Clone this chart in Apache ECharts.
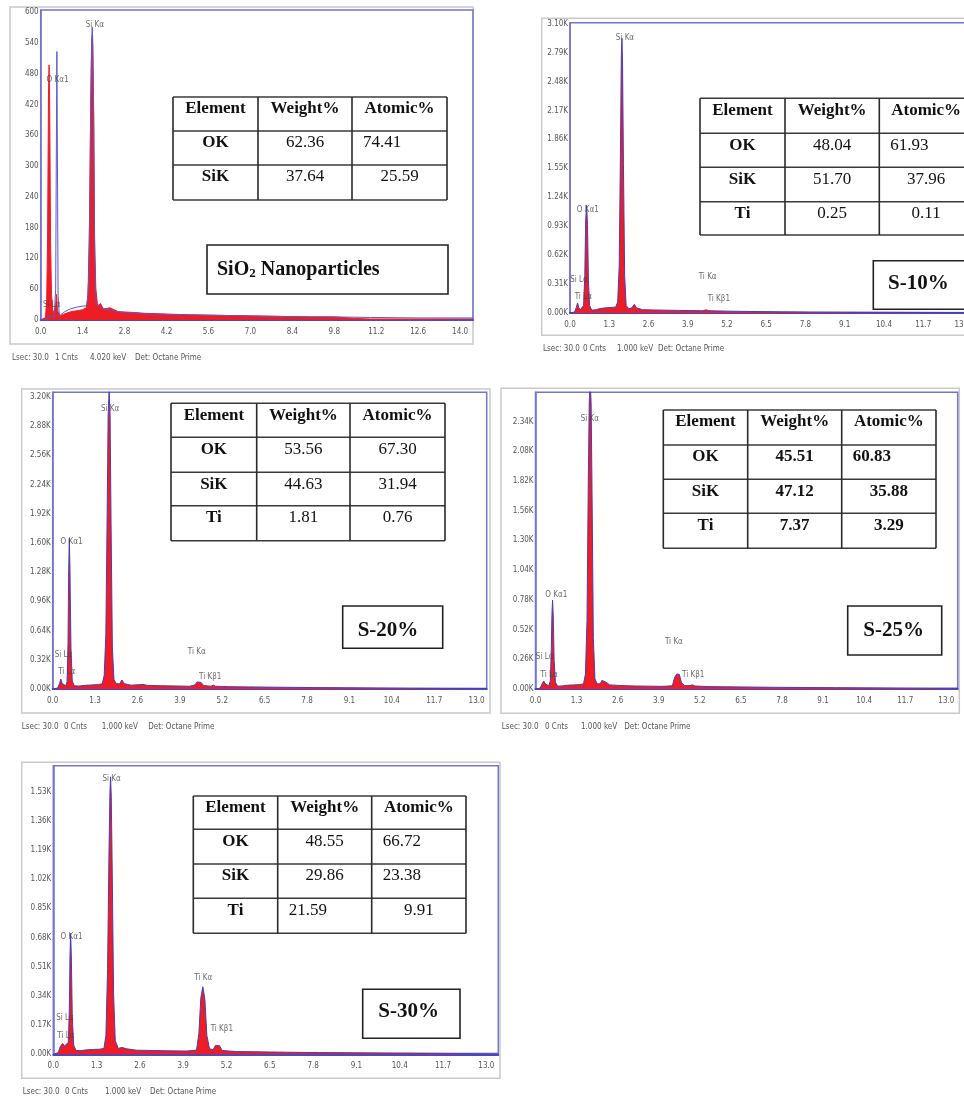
<!DOCTYPE html>
<html>
<head>
<meta charset="utf-8">
<script src="https://cdn.jsdelivr.net/npm/echarts/dist/echarts.min.js"></script>
<style>
html,body{margin:0;padding:0;background:#fff;}
#chart{width:964px;height:1098px;}
</style>
</head>
<body>
<div id="chart"></div>
<script>
// ---------------- DATA ----------------
// tick labels
const xTicks14 = ['0.0','1.4','2.8','4.2','5.6','7.0','8.4','9.8','11.2','12.6','14.0'];
const xTicks13 = ['0.0','1.3','2.6','3.9','5.2','6.5','7.8','9.1','10.4','11.7','13.0'];
const yTicks1 = ['0','60','120','180','240','300','360','420','480','540','600'];
const yTicks2 = ['0.00K','0.31K','0.62K','0.93K','1.24K','1.55K','1.86K','2.17K','2.48K','2.79K','3.10K'];
const yTicks3 = ['0.00K','0.32K','0.64K','0.96K','1.28K','1.60K','1.92K','2.24K','2.56K','2.88K','3.20K'];
const yTicks4 = ['0.00K','0.26K','0.52K','0.78K','1.04K','1.30K','1.56K','1.82K','2.08K','2.34K'];
const yTicks5 = ['0.00K','0.17K','0.34K','0.51K','0.68K','0.85K','1.02K','1.19K','1.36K','1.53K'];

// spectra [keV, counts]
const spec1Red = [[0,0],[0.16,5],[0.20,40],[0.23,160],[0.26,440],[0.28,497],[0.30,420],[0.33,150],[0.36,50],[0.40,20],[0.45,12],[0.50,30],[0.53,50],[0.56,18],[0.65,8],[0.80,12],[1.00,16],[1.20,18],[1.40,20],[1.52,24],[1.58,50],[1.63,200],[1.67,420],[1.70,540],[1.72,555],[1.74,520],[1.77,380],[1.80,160],[1.84,60],[1.90,28],[2.00,32],[2.10,20],[2.30,24],[2.60,16],[3.00,15],[3.50,13],[4.00,12],[4.50,11],[5.00,10],[6.00,9],[7.00,8],[8.00,7],[9.00,6],[9.80,6],[10.5,3],[11.0,2],[12.0,2],[13.0,2],[14.43,2]];
const spec1Blue = [[0,0],[0.20,3],[0.30,8],[0.45,6],[0.50,60],[0.52,300],[0.54,523],[0.56,300],[0.58,50],[0.62,8],[0.80,16],[1.00,22],[1.20,25],[1.40,27],[1.55,28],[1.62,100],[1.67,420],[1.70,540],[1.72,571],[1.74,540],[1.77,400],[1.80,120],[1.85,30],[2.00,24],[2.30,20],[2.60,16],[3.00,14],[3.50,12],[4.00,11],[5.00,10],[6.00,9],[7.00,8],[8.00,7],[9.00,6],[9.80,6],[11.0,5],[12.6,4],[14.43,4]];
const spec2 = [[0,0],[0.15,10],[0.21,60],[0.25,107],[0.29,60],[0.34,35],[0.40,30],[0.45,80],[0.49,400],[0.52,1000],[0.55,1155],[0.58,950],[0.61,350],[0.65,80],[0.72,30],[0.85,35],[1.00,48],[1.20,56],[1.40,60],[1.52,65],[1.58,120],[1.63,500],[1.67,1700],[1.70,2750],[1.72,2943],[1.74,2700],[1.77,1600],[1.81,400],[1.86,80],[1.95,45],[2.05,55],[2.13,93],[2.20,55],[2.40,36],[2.80,32],[3.20,30],[3.60,28],[4.00,26],[4.40,24],[4.51,34],[4.60,24],[4.93,22],[5.20,20],[6.00,16],[7.00,13],[8.00,11],[9.00,10],[10.0,9],[11.0,8],[12.0,7],[13.25,6]];
const spec3 = [[0,0],[0.15,10],[0.21,60],[0.25,109],[0.29,60],[0.34,40],[0.40,35],[0.44,80],[0.47,500],[0.49,1300],[0.51,1652],[0.53,1300],[0.56,450],[0.60,90],[0.66,35],[0.80,32],[1.00,40],[1.20,45],[1.40,48],[1.52,58],[1.58,150],[1.63,600],[1.67,1900],[1.70,3000],[1.73,3260],[1.76,3000],[1.79,1800],[1.83,450],[1.88,100],[1.95,60],[2.05,55],[2.12,98],[2.20,58],[2.40,42],[2.77,50],[2.90,40],[3.30,36],[3.80,33],[4.20,30],[4.36,45],[4.43,78],[4.49,84],[4.55,72],[4.63,38],[4.85,30],[4.92,42],[5.00,30],[5.40,26],[6.00,23],[7.00,19],[8.00,16],[9.00,14],[10.0,12],[11.0,10],[12.0,9],[13.31,8]];
const spec4 = [[0,0],[0.15,8],[0.21,45],[0.26,70],[0.31,45],[0.36,28],[0.42,28],[0.47,70],[0.50,350],[0.52,650],[0.54,778],[0.56,650],[0.59,250],[0.63,60],[0.70,25],[0.85,27],[1.00,33],[1.20,36],[1.40,38],[1.52,45],[1.58,130],[1.63,600],[1.67,1800],[1.70,2500],[1.73,2700],[1.76,2500],[1.79,1700],[1.83,450],[1.88,90],[1.95,45],[2.05,45],[2.10,75],[2.16,85],[2.22,62],[2.35,36],[2.80,29],[3.20,26],[3.60,25],[4.00,23],[4.33,28],[4.40,100],[4.47,131],[4.55,128],[4.62,55],[4.72,29],[4.88,30],[4.96,36],[5.05,26],[5.50,21],[6.50,18],[7.50,15],[8.50,13],[9.50,12],[10.5,10],[11.5,9],[12.5,8],[13.36,8]];
const spec5 = [[0,0],[0.15,10],[0.21,45],[0.28,63],[0.34,48],[0.40,52],[0.45,70],[0.48,250],[0.50,560],[0.52,704],[0.54,580],[0.57,220],[0.61,55],[0.68,22],[0.85,22],[1.00,26],[1.20,28],[1.40,30],[1.52,34],[1.58,110],[1.63,500],[1.67,1150],[1.70,1520],[1.72,1615],[1.74,1500],[1.77,1050],[1.81,350],[1.86,80],[1.95,34],[2.06,40],[2.12,46],[2.20,32],[2.50,24],[3.00,22],[3.50,20],[4.00,19],[4.30,24],[4.37,120],[4.43,330],[4.49,393],[4.55,320],[4.61,110],[4.69,32],[4.80,27],[4.87,52],[4.93,59],[4.99,50],[5.07,22],[5.50,16],[6.00,15],[7.00,12],[8.00,10],[9.00,9],[10.0,8],[11.0,7],[12.0,6],[13.36,6]];

// peak labels [text, keV, counts]
const peaks1 = [['Si Kα',1.81,575],['O Kα1',0.56,467],['Si Lα',0.37,29]];
const peaks2 = [['Si Kα',1.82,2950],['O Kα1',0.59,1101],['Si Lα',0.30,353],['Ti Lα',0.44,174],['Ti Kα',4.56,382],['Ti Kβ1',4.93,150]];
const peaks3 = [['Si Kα',1.76,3069],['O Kα1',0.58,1614],['Si Lα',0.33,373],['Ti Lα',0.43,190],['Ti Kα',4.42,409],['Ti Kβ1',4.83,135]];
const peaks4 = [['Si Kα',1.72,2366],['O Kα1',0.66,822],['Si Lα',0.29,282],['Ti Lα',0.43,122],['Ti Kα',4.38,408],['Ti Kβ1',4.99,122]];
const peaks5 = [['Si Kα',1.75,1605],['O Kα1',0.55,684],['Si Lα',0.35,209],['Ti Lα',0.38,106],['Ti Kα',4.50,442],['Ti Kβ1',5.06,145]];

// composition tables
const table1 = [['Element','Weight%','Atomic%'],['OK','62.36','74.41'],['SiK','37.64','25.59']];
const table2 = [['Element','Weight%','Atomic%'],['OK','48.04','61.93'],['SiK','51.70','37.96'],['Ti','0.25','0.11']];
const table3 = [['Element','Weight%','Atomic%'],['OK','53.56','67.30'],['SiK','44.63','31.94'],['Ti','1.81','0.76']];
const table4 = [['Element','Weight%','Atomic%'],['OK','45.51','60.83'],['SiK','47.12','35.88'],['Ti','7.37','3.29']];
const table5 = [['Element','Weight%','Atomic%'],['OK','48.55','66.72'],['SiK','29.86','23.38'],['Ti','21.59','9.91']];

const sampleNames = ['SiO2 Nanoparticles','S-10%','S-20%','S-25%','S-30%'];
const footer1 = ['Lsec: 30.0','1 Cnts','4.020 keV','Det: Octane Prime'];
const footerN = ['Lsec: 30.0','0 Cnts','1.000 keV','Det: Octane Prime'];

// ---------------- LAYOUT ----------------
const panels = [
  {grid:{left:40.7,top:10,width:432.3,height:310}, xMax:14.43, xInt:1.4, xT:xTicks14, yMax:604, yInt:60, yT:yTicks1,
   frame:[10,7,463,337], spec:[spec1Red, spec1Blue], peaks:peaks1, table:table1,
   tl:{cols:[173,258,352,447], rows:[97,131,165,200], align:[['c','c','c'],['c','c','l'],['c','c','c']], bold:false},
   box:[207,245,241,49], boxText:{x:217,y:270,align:'left'}, footer:footer1, fx:[12,55,90,135], fy:358},
  {grid:{left:570,top:22.7,width:400,height:290.3}, xMax:13.25, xInt:1.3, xT:xTicks13, yMax:3110, yInt:310, yT:yTicks2,
   frame:[541.7,18.3,440,317], spec:[spec2], peaks:peaks2, table:table2,
   tl:{cols:[700,785,879.3,973], rows:[98.3,133.3,167.3,201.7,235], align:[['c','c','c'],['c','c','l'],['c','c','c'],['c','c','c']], bold:false},
   box:[873.3,260.7,110,48.6], boxText:{x:888,y:284,align:'left'}, footer:footerN, fx:[543,583,617,658], fy:349},
  {grid:{left:52.7,top:392.3,width:434,height:296.7}, xMax:13.31, xInt:1.3, xT:xTicks13, yMax:3250, yInt:320, yT:yTicks3,
   frame:[21.7,389,468.3,324], spec:[spec3], peaks:peaks3, table:table3,
   tl:{cols:[171,256.7,350,445], rows:[403.3,437.3,472.3,505.7,540.7], align:[['c','c','c'],['c','c','c'],['c','c','c'],['c','c','c']], bold:false},
   box:[342.7,606,100,42.3], boxText:{x:388,y:630.7,align:'center'}, footer:footerN, fx:[21.7,64,101.7,148.3], fy:726.7},
  {grid:{left:535.5,top:392.3,width:422.2,height:296.7}, xMax:13.36, xInt:1.3, xT:xTicks13, yMax:2595, yInt:260, yT:yTicks4,
   frame:[501,388.3,458.3,325], spec:[spec4], peaks:peaks4, table:table4,
   tl:{cols:[663.3,747.7,841.7,936], rows:[410,445,479.3,513.3,548.3], align:[['c','c','c'],['c','c','l'],['c','c','c'],['c','c','c']], bold:true},
   box:[847.7,606,94,49], boxText:{x:893.7,y:630.7,align:'center'}, footer:footerN, fx:[501.7,545,581,624.3], fy:726.7},
  {grid:{left:53.3,top:765.7,width:445,height:288.6}, xMax:13.36, xInt:1.3, xT:xTicks13, yMax:1680, yInt:170, yT:yTicks5,
   frame:[21.7,762.3,478.3,316], spec:[spec5], peaks:peaks5, table:table5,
   tl:{cols:[193.3,277.7,371.7,466], rows:[796,829.3,864,898.3,933.3], align:[['c','c','c'],['c','c','l'],['c','c','l'],['c','l','c']], bold:false},
   box:[362.7,989.3,97.3,49], boxText:{x:408.7,y:1011.7,align:'center'}, footer:footerN, fx:[22.7,65,105,150], fy:1092.3}
];

const TICK_FONT = '"Liberation Sans Narrow","DejaVu Sans Condensed","Liberation Sans",sans-serif';
const SERIF = '"Liberation Serif","Times New Roman",serif';
const RED = '#ee1c24', BLUE = '#4a3cb4', FRAME_BLUE = '#7474c8';

function tickFmt(labels, interval){
  return function(v){
    const i = Math.round(v / interval);
    if (Math.abs(v - i * interval) > interval * 1e-3) return '';
    return labels[i] !== undefined ? labels[i] : '';
  };
}

const grids = [], xAxes = [], yAxes = [], series = [], graphics = [];

panels.forEach((p, k) => {
  grids.push(Object.assign({show:true, borderColor:FRAME_BLUE, borderWidth:1.5, backgroundColor:'transparent', containLabel:false, outerBoundsMode:'none'}, p.grid));
  xAxes.push({type:'value', gridIndex:k, min:0, max:p.xMax, interval:p.xInt,
    axisLine:{show:true, onZero:false, lineStyle:{color:'#4a4ac0', width:2}},
    axisTick:{show:false}, splitLine:{show:false},
    axisLabel:{show:true, interval:0, margin:8, fontSize:8, color:'#555', fontFamily:TICK_FONT, formatter:tickFmt(p.xT, p.xInt), showMinLabel:true, showMaxLabel:true}});
  yAxes.push({type:'value', gridIndex:k, min:0, max:p.yMax, interval:p.yInt,
    axisLine:{show:true, lineStyle:{color:FRAME_BLUE, width:1.5}},
    axisTick:{show:false}, splitLine:{show:false},
    axisLabel:{show:true, interval:0, margin:2, fontSize:8, color:'#555', fontFamily:TICK_FONT, padding:[6,0,0,0], formatter:tickFmt(p.yT, p.yInt), showMinLabel:true, showMaxLabel:true}});
  if (p.spec.length === 2) {
    series.push({type:'line', xAxisIndex:k, yAxisIndex:k, data:p.spec[0], showSymbol:false, symbol:'none', clip:true,
      lineStyle:{color:RED, width:1}, areaStyle:{color:RED, opacity:1}, z:2});
    series.push({type:'line', xAxisIndex:k, yAxisIndex:k, data:p.spec[1], showSymbol:false, symbol:'none', clip:true,
      lineStyle:{color:'#5a5ac8', width:1}, z:3});
  } else {
    series.push({type:'line', xAxisIndex:k, yAxisIndex:k, data:p.spec[0], showSymbol:false, symbol:'none', clip:true,
      lineStyle:{color:BLUE, width:1}, areaStyle:{color:RED, opacity:1}, z:2});
  }
  series.push({type:'scatter', xAxisIndex:k, yAxisIndex:k, symbolSize:0, silent:true, z:4,
    data:p.peaks.map(d => ({name:d[0], value:[d[1], d[2]]})),
    label:{show:true, position:'inside', formatter:'{b}', fontSize:8, color:'#444', fontFamily:TICK_FONT}});

  // gray outer frame
  graphics.push({type:'rect', shape:{x:p.frame[0], y:p.frame[1], width:p.frame[2], height:p.frame[3]},
    style:{fill:'none', stroke:'#c9c9c9', lineWidth:1.5}, z:-1});

  // table
  const t = p.tl, cols = t.cols, rows = t.rows;
  graphics.push({type:'rect', shape:{x:cols[0], y:rows[0], width:cols[cols.length-1]-cols[0], height:rows[rows.length-1]-rows[0]},
    style:{fill:'#fff', stroke:null}, z:5});
  rows.forEach(y => graphics.push({type:'line', shape:{x1:cols[0], y1:y, x2:cols[cols.length-1], y2:y}, style:{stroke:'#3a3a3a', lineWidth:1.6}, z:6}));
  cols.forEach(x => graphics.push({type:'line', shape:{x1:x, y1:rows[0], x2:x, y2:rows[rows.length-1]}, style:{stroke:'#2a2a2a', lineWidth:1.6}, z:6}));
  p.table.forEach((row, r) => row.forEach((txt, c) => {
    const al = t.align[r][c];
    const x = al === 'l' ? cols[c] + 11 : (cols[c] + cols[c+1]) / 2;
    const bold = r === 0 || c === 0 || t.bold;
    graphics.push({type:'text', x:x, y:rows[r] + 12, z:7,
      style:{text:txt, font:(bold ? 'bold ' : '') + '17px ' + SERIF, fill:'#111',
        align:al === 'l' ? 'left' : 'center', verticalAlign:'middle',
        textAlign:al === 'l' ? 'left' : 'center', textVerticalAlign:'middle'}});
  }));

  // sample label box
  graphics.push({type:'rect', shape:{x:p.box[0], y:p.box[1], width:p.box[2], height:p.box[3]},
    style:{fill:'#fff', stroke:'#222', lineWidth:1.6}, z:5});
  const name = sampleNames[k];
  if (k === 0) {
    graphics.push({type:'text', x:p.boxText.x, y:p.boxText.y, z:7,
      style:{text:'{a|SiO}{s|2}{a| Nanoparticles}', align:'left', verticalAlign:'middle', textAlign:'left', textVerticalAlign:'middle',
        rich:{a:{font:'bold 20px ' + SERIF, fill:'#111'}, s:{font:'bold 13px ' + SERIF, fill:'#111', verticalAlign:'bottom', padding:[6,0,0,0]}}}});
  } else {
    graphics.push({type:'text', x:p.boxText.x, y:p.boxText.y, z:7,
      style:{text:name, font:'bold 21px ' + SERIF, fill:'#111', align:p.boxText.align, verticalAlign:'middle',
        textAlign:p.boxText.align, textVerticalAlign:'middle'}});
  }

  // footer
  p.footer.forEach((txt, i) => graphics.push({type:'text', x:p.fx[i], y:p.fy, z:7,
    style:{text:txt, font:'8px ' + TICK_FONT, fill:'#555', align:'left', verticalAlign:'middle', textAlign:'left', textVerticalAlign:'middle'}}));
});

const chart = echarts.init(document.getElementById('chart'), null, {renderer:'canvas', width:964, height:1098});
chart.setOption({
  animation:false,
  backgroundColor:'#fff',
  grid:grids, xAxis:xAxes, yAxis:yAxes, series:series, graphic:graphics
});
</script>
</body>
</html>
